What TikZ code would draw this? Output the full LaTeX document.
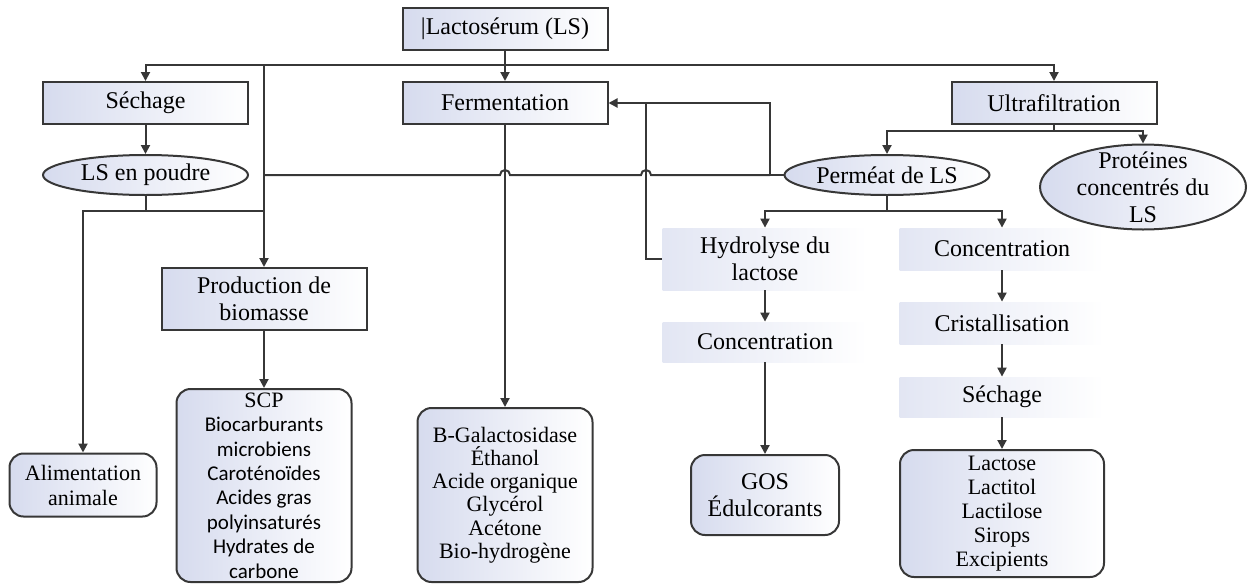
\documentclass[tikz,border=0pt]{standalone}
\usepackage{fontspec}
\setmainfont{Liberation Serif}
\newfontfamily\scpfont{Carlito}
\usetikzlibrary{positioning,arrows.meta,shapes.geometric}
\definecolor{lsfill}{RGB}{214,219,238}
\definecolor{lsline}{RGB}{55,55,55}

\begin{document}
\begin{tikzpicture}[x=0.5pt,y=-0.5pt,
    base/.style={align=center, font=\rmfamily\fontsize{12}{13.5}\selectfont, inner sep=0pt},
    box/.style={base, draw=lsline, line width=1pt, left color=lsfill, right color=white, minimum width=102.5pt, minimum height=21pt},
    plain/.style={base, left color=lsfill!70, right color=white, minimum width=102.5pt, minimum height=21pt},
    oval/.style={base, ellipse, draw=lsline, line width=1pt, left color=lsfill, right color=white, minimum width=102.5pt, minimum height=20pt, inner xsep=-2pt},
    result/.style={base, draw=lsline, line width=1pt, rounded corners=7pt, left color=lsfill, right color=white},
    arr/.style={-{Triangle[width=4.5pt,length=4.5pt]}, draw=lsline, line width=1pt},
    link/.style={draw=lsline, line width=1pt}]
    \useasboundingbox (0,0) rectangle (1252,584);

    % Top rows
    \node[box] (ls) at (505,29) {|Lactosérum (LS)};
    \node[box] (sech) at (145.5,103) {Séchage};
    \node[box] (ferm) at (505,103) {Fermentation};
    \node[box] (ultra) at (1054,103) {Ultrafiltration};

    \node[oval] (poudre) at (145.5,175) {LS en poudre};
    \node[oval] (perm) at (887,175) {Perméat de LS};
    \node[oval, minimum width=103pt, minimum height=42.5pt, inner ysep=-10pt] (prot) at (1143,187) {Protéines\\concentrés du\\LS};

    % Middle steps
    \node[box, minimum height=31pt] (prod) at (264,299) {Production de\\biomasse};
    \node[plain, minimum height=31pt] (hydro) at (765,259) {Hydrolyse du\\lactose};
    \node[plain, minimum height=20pt] (conc1) at (765,342) {Concentration};
    \node[plain] (conc2) at (1002,249) {Concentration};
    \node[plain] (crist) at (1002,323) {Cristallisation};
    \node[plain, minimum height=20pt] (sech2) at (1002,397) {Séchage};

    % Products
    \node[result, minimum width=73.5pt, minimum height=31.5pt, font=\rmfamily\fontsize{11}{12.5}\selectfont] (alim) at (83,485) {Alimentation\\animale};
    \node[result, minimum width=87.5pt, minimum height=96.5pt, font=\scpfont\fontsize{10.5}{12.2}\selectfont] (scp) at (264,485.5) {{\rmfamily\fontsize{11}{12.2}\selectfont SCP}\\Biocarburants\\microbiens\\Caroténoïdes\\Acides gras\\polyinsaturés\\Hydrates de\\carbone};
    \node[result, minimum width=87.5pt, minimum height=87pt, font=\rmfamily\fontsize{11}{11.6}\selectfont] (bgal) at (505,495) {B-Galactosidase\\Éthanol\\Acide organique\\Glycérol\\Acétone\\Bio-hydrogène};
    \node[result, minimum width=74pt, minimum height=40pt] (gos) at (765,495) {GOS\\Édulcorants};
    \node[result, minimum width=102pt, minimum height=63.5pt, font=\rmfamily\fontsize{11}{12}\selectfont] (lact) at (1002,513.5) {Lactose\\Lactitol\\Lactilose\\Sirops\\Excipients};

    % Main bus
    \coordinate (bus) at (505,65);
    \draw[arr] (ls) -- (ferm);
    \draw[arr] (bus) -| (sech);
    \draw[arr] (bus) -| (ultra);
    \draw[arr] (prod.north |- bus) -- (prod);

    % Sechage branch
    \draw[arr] (sech) -- (poudre);
    \coordinate (pj) at (145.5,211);
    \draw[link] (poudre) -- (pj) -- (prod.north |- pj);
    \draw[arr] (pj) -| (alim);

    % Permeat feeds back
    \coordinate (fj) at (770,103);
    \draw[arr] (perm.west) -- (perm.west -| fj) -- (fj) -- (ferm);
    \draw[link] (hydro.west) -| (646,103);
    \draw[link] (perm.west -| fj) -- (651,175) arc[start angle=0, end angle=-180, radius=5]
        -- (510,175) arc[start angle=0, end angle=-180, radius=5] -- (prod.north |- perm.west);

    % Ultrafiltration branch
    \coordinate (uj) at (1054,131);
    \draw[link] (ultra) -- (uj);
    \draw[arr] (uj) -| (perm);
    \draw[arr] (uj) -| (prot);
    \coordinate (mj) at (887,211);
    \draw[link] (perm) -- (mj);
    \draw[arr] (mj) -| (hydro);
    \draw[arr] (mj) -| (conc2);

    % Down the columns
    \draw[arr] (prod) -- (scp);
    \draw[arr] (ferm) -- (bgal);
    \draw[arr] (hydro) -- (conc1);
    \draw[arr] (conc1) -- (gos);
    \draw[arr] (conc2) -- (crist);
    \draw[arr] (crist) -- (sech2);
    \draw[arr] (sech2) -- (lact);
\end{tikzpicture}
\end{document}
